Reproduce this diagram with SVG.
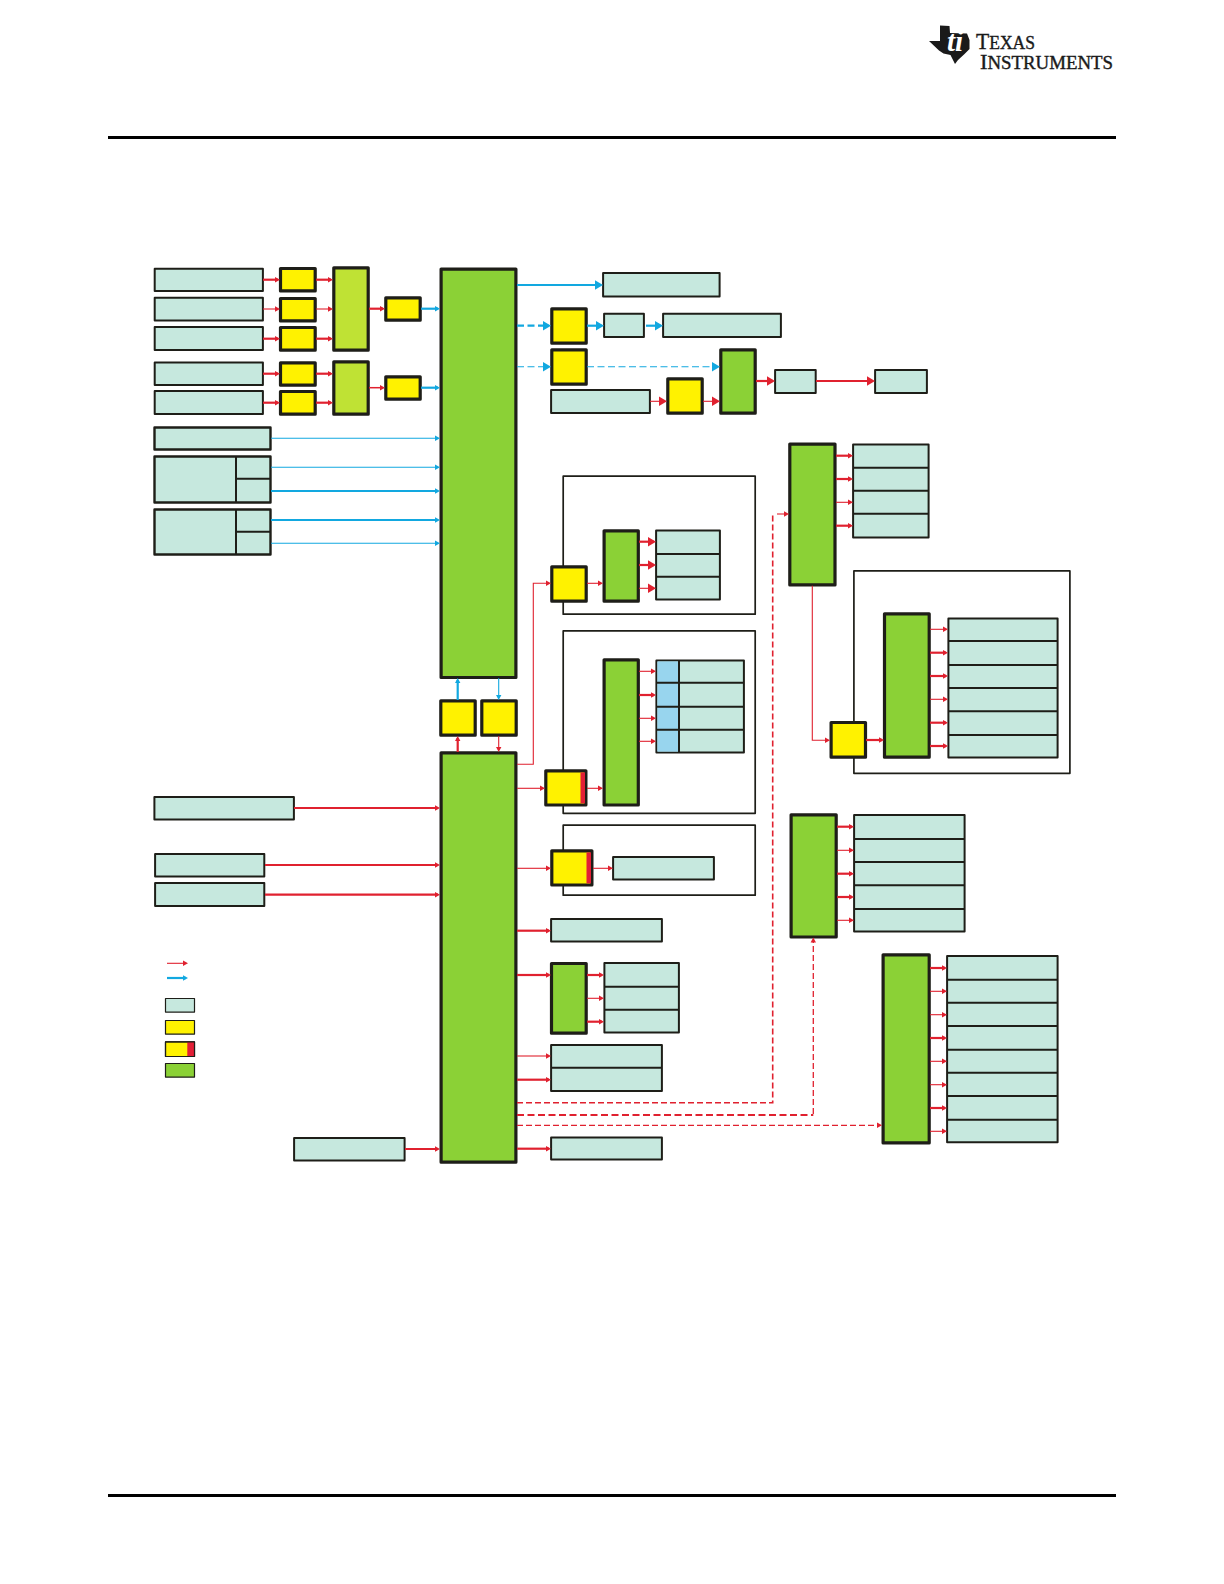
<svg xmlns="http://www.w3.org/2000/svg" width="1224" height="1584" viewBox="0 0 1224 1584">
<style>
rect{stroke:#1e1e18;stroke-linejoin:round}
.t{fill:#c6e8de;stroke-width:2}
.y{fill:#fff200;stroke-width:3.2}
.g{fill:#8bd136;stroke-width:3.2}
.l{fill:#bfe234;stroke-width:3.2}
.f{fill:#fff;stroke-width:1.7}
.c{fill:#e21f36;stroke:none}
.k{fill:#98d5ee;stroke:none}
.s1{fill:#c6e8de;stroke-width:1.2}
.s2{fill:#fff200;stroke-width:1.2}
.s3{fill:#8bd136;stroke-width:1.2}
.s4{fill:none;stroke-width:1.2}
.div{stroke:#1e1e18;stroke-width:2;fill:none}
.cn path{fill:none}
.r1,.r2,.R1,.R2{stroke:#e0212f}
.b1,.b2,.B1,.B2{stroke:#12a8e0}
.r1,.b1,.R1,.B1{stroke-width:1.1}
.r2,.b2,.R2,.B2{stroke-width:2.2}
.r1,.r2{marker-end:url(#rs)}
.R1,.R2{marker-end:url(#rl)}
.b1,.b2{marker-end:url(#bs)}
.B1,.B2{marker-end:url(#bl)}
.d{stroke-dasharray:7 3.5}
.dn{stroke-dasharray:6 3;stroke-width:1.3}
.nm{marker-end:none}
.rule{fill:#000;stroke:none}
.logo{font-family:"Liberation Serif",serif;fill:#1a1a1a;stroke:#1a1a1a;stroke-width:.4}
</style>
<defs>
<marker id="rs" markerUnits="userSpaceOnUse" markerWidth="6" markerHeight="6" refX="3" refY="3" orient="auto"><path d="M0 0.300L5 3L0 5.700z" fill="#e0212f"/></marker>
<marker id="bs" markerUnits="userSpaceOnUse" markerWidth="6" markerHeight="6" refX="3" refY="3" orient="auto"><path d="M0 0.300L5 3L0 5.700z" fill="#12a8e0"/></marker>
<marker id="rl" markerUnits="userSpaceOnUse" markerWidth="10" markerHeight="10" refX="6.500" refY="5" orient="auto"><path d="M0 0L8.500 5L0 10z" fill="#e0212f"/></marker>
<marker id="bl" markerUnits="userSpaceOnUse" markerWidth="10" markerHeight="10" refX="6.500" refY="5" orient="auto"><path d="M0 0L8.500 5L0 10z" fill="#12a8e0"/></marker>
</defs>

<rect class="rule" x="108" y="136" width="1008" height="3"/>
<rect class="rule" x="108" y="1494" width="1008" height="3"/>

<g id="logo">
<path d="M929 41L940 41L940 25.500L949.500 26L950 33L967 33.500L969.500 40L969.500 49L964 54.500L958 60L955 64L950.500 55L943.500 53.500L939 50.500z" fill="#1a1a1a"/>
<text x="947" y="51" font-size="29" font-style="italic" font-weight="bold" fill="#fff" font-family="Liberation Serif, serif">ti</text>
<text class="logo" x="976" y="49" font-size="24" textLength="59" lengthAdjust="spacingAndGlyphs">T<tspan font-size="19.500">EXAS</tspan></text>
<text class="logo" x="980" y="68.500" font-size="22" textLength="133" lengthAdjust="spacingAndGlyphs">I<tspan font-size="18.500">NSTRUMENTS</tspan></text>
</g>

<g id="frames">
<rect id="frame1" class="f" x="563.200" y="476.200" width="192" height="138"/>
<rect id="frame2" class="f" x="563.200" y="630.900" width="192" height="182.400"/>
<rect id="frame3" class="f" x="563.200" y="825.200" width="192" height="70"/>
<rect id="frame4" class="f" x="853.900" y="570.900" width="216" height="202.400"/>
</g>

<g id="n1"><rect class="t" x="154.700" y="268.700" width="108.200" height="22.200"/></g>
<g id="n2"><rect class="t" x="154.700" y="297.700" width="108.200" height="22.900"/></g>
<g id="n3"><rect class="t" x="154.700" y="327.100" width="108.200" height="22.800"/></g>
<g id="n4"><rect class="t" x="154.700" y="362.400" width="108.200" height="22.500"/></g>
<g id="n5"><rect class="t" x="154.700" y="391.100" width="108.200" height="22.800"/></g>
<g id="y1"><rect class="y" x="280.500" y="268.500" width="34.700" height="22.400"/></g>
<g id="y2"><rect class="y" x="280.500" y="298.500" width="34.700" height="22.400"/></g>
<g id="y3"><rect class="y" x="280.500" y="327.500" width="34.700" height="22.700"/></g>
<g id="y4"><rect class="y" x="280.500" y="362.800" width="34.700" height="22.400"/></g>
<g id="y5"><rect class="y" x="280.500" y="391.500" width="34.700" height="22.700"/></g>
<g id="lime1"><rect class="l" x="333.800" y="267.800" width="34.400" height="82.400"/></g>
<g id="lime2"><rect class="l" x="333.800" y="361.800" width="34.400" height="52.400"/></g>
<g id="ys1"><rect class="y" x="385.800" y="297.800" width="34.400" height="22.400"/></g>
<g id="ys2"><rect class="y" x="385.800" y="376.800" width="34.400" height="22.400"/></g>
<g id="main1"><rect class="g" x="441.100" y="269.100" width="74.800" height="408.400"/></g>
<g id="main2"><rect class="g" x="441.100" y="752.800" width="74.800" height="409.400"/></g>
<g id="yp1"><rect class="y" x="440.800" y="700.800" width="34.400" height="34.400"/></g>
<g id="yp2"><rect class="y" x="481.800" y="700.800" width="34.400" height="34.400"/></g>

<g id="b1"><rect class="t" style="stroke-width:2.400" x="154.500" y="427.500" width="116" height="22"/></g>
<g id="b2"><rect class="t" style="stroke-width:2.400" x="154.500" y="456.500" width="116" height="46"/><path class="div" d="M236 456.500V502.500M236 478.700H270.500"/></g>
<g id="b3"><rect class="t" style="stroke-width:2.400" x="154.500" y="509.500" width="116" height="45"/><path class="div" d="M236 509.500V554.500M236 531.700H270.500"/></g>

<g id="t1"><rect class="t" x="603.100" y="273.100" width="116.500" height="23.500"/></g>
<g id="y6"><rect class="y" x="551.800" y="308.800" width="34.400" height="34.400"/></g>
<g id="y7"><rect class="y" x="551.800" y="349.800" width="34.400" height="34.400"/></g>
<g id="t2"><rect class="t" x="604.100" y="313.700" width="39.800" height="23.200"/></g>
<g id="t3"><rect class="t" x="663.100" y="313.700" width="117.800" height="23.200"/></g>
<g id="t4"><rect class="t" x="551.100" y="390.100" width="98.800" height="22.800"/></g>
<g id="y8"><rect class="y" x="667.800" y="378.800" width="34.400" height="34.400"/></g>
<g id="g1"><rect class="g" x="720.800" y="349.800" width="34.400" height="63.400"/></g>
<g id="t5"><rect class="t" x="775.100" y="370.100" width="40.600" height="22.800"/></g>
<g id="t6"><rect class="t" x="875.100" y="370.100" width="51.800" height="22.800"/></g>

<g id="y9"><rect class="y" x="551.800" y="566.800" width="34.400" height="34.400"/></g>
<g id="g2"><rect class="g" x="604.100" y="530.800" width="34.200" height="70.400"/></g>
<g id="s2"><rect class="t" x="656.100" y="530.400" width="63.800" height="69.200"/><path class="div" d="M656.100 554H719.900M656.100 576.700H719.900"/></g>

<g id="g3"><rect class="g" x="789.800" y="444.100" width="45.200" height="140.800"/></g>
<g id="s3"><rect class="t" x="853.100" y="444.400" width="75.500" height="93"/><path class="div" d="M853.100 467.700H928.600M853.100 490.700H928.600M853.100 513.700H928.600"/></g>

<g id="g4"><rect class="g" x="604.100" y="659.800" width="34.200" height="145.200"/></g>
<g id="s4"><rect class="t" x="656.400" y="660.400" width="87.500" height="92.200"/><rect class="k" x="657.400" y="661.400" width="21.600" height="90.200"/><path class="div" d="M679 660.400V752.600M656.400 682.700H743.900M656.400 706.700H743.900M656.400 729.700H743.900"/></g>
<g id="yr1"><rect class="y" x="545.800" y="770.800" width="40.100" height="34.200"/><rect class="c" x="580.500" y="772.400" width="4.500" height="31"/></g>
<g id="yr2"><rect class="y" x="551.800" y="850.800" width="40.100" height="34.200"/><rect class="c" x="586.500" y="852.400" width="4.500" height="31"/></g>
<g id="t7"><rect class="t" x="613.100" y="857.100" width="100.800" height="22.500"/></g>

<g id="g5"><rect class="g" x="884.500" y="613.800" width="44.700" height="143.400"/></g>
<g id="s5"><rect class="t" x="948.400" y="618.400" width="109.200" height="139.200"/><path class="div" d="M948.400 641H1057.600M948.400 665H1057.600M948.400 688H1057.600M948.400 711.300H1057.600M948.400 735H1057.600"/></g>
<g id="y10"><rect class="y" x="831.100" y="722.500" width="34.400" height="34.700"/></g>

<g id="t8"><rect class="t" x="154.400" y="797.100" width="139.500" height="22.500"/></g>
<g id="t9"><rect class="t" x="155.100" y="854.100" width="109.200" height="22.500"/></g>
<g id="t10"><rect class="t" x="155.100" y="883.100" width="109.200" height="22.800"/></g>
<g id="t11"><rect class="t" x="294.100" y="1138.100" width="110.500" height="22.500"/></g>

<g id="legend">
<rect class="s1" x="165.500" y="998.500" width="29" height="13.600"/>
<rect class="s2" x="165.500" y="1020.500" width="29" height="13.600"/>
<rect class="s2" x="165.500" y="1041.900" width="29" height="14.600"/>
<rect class="c" x="187.300" y="1041.900" width="7.200" height="14.600"/>
<rect class="s4" x="165.500" y="1041.900" width="29" height="14.600"/>
<rect class="s3" x="165.500" y="1063.500" width="29" height="13.600"/>
</g>

<g id="t12"><rect class="t" x="551.100" y="919.100" width="110.800" height="22.500"/></g>
<g id="g6"><rect class="g" x="551.500" y="963.500" width="34.700" height="69.700"/></g>
<g id="s6"><rect class="t" x="604.400" y="963.100" width="74.500" height="69.500"/><path class="div" d="M604.400 986.700H678.900M604.400 1009.700H678.900"/></g>
<g id="s7"><rect class="t" x="551.100" y="1045.100" width="110.800" height="45.800"/><path class="div" d="M551.100 1067.700H661.900"/></g>
<g id="t13"><rect class="t" x="551.100" y="1137.400" width="110.800" height="22.200"/></g>

<g id="g7"><rect class="g" x="791.100" y="814.800" width="45.100" height="122.200"/></g>
<g id="s8"><rect class="t" x="854.100" y="815.100" width="110.500" height="116.500"/><path class="div" d="M854.100 839H964.600M854.100 862H964.600M854.100 885.300H964.600M854.100 909H964.600"/></g>
<g id="g8"><rect class="g" x="883.100" y="954.800" width="46.100" height="188.100"/></g>
<g id="s9"><rect class="t" x="947.100" y="956.100" width="110.500" height="186.200"/><path class="div" d="M947.100 979.700H1057.600M947.100 1002.700H1057.600M947.100 1026H1057.600M947.100 1049.700H1057.600M947.100 1072.700H1057.600M947.100 1096H1057.600M947.100 1119.700H1057.600"/></g>

<g id="connectors" class="cn">
<path class="r2" d="M263 279.700H278"/><path class="r1" d="M263 309H278"/><path class="r2" d="M263 338.700H278"/><path class="r2" d="M263 373.700H278"/><path class="r2" d="M263 402.700H278"/>
<path class="r2" d="M316 279.700H331"/><path class="r1" d="M316 309H331"/><path class="r2" d="M316 338.700H331"/><path class="r2" d="M316 373.700H331"/><path class="r2" d="M316 402.700H331"/>
<path class="r2" d="M369 308.700H383"/><path class="r2" style="stroke-width:1.500" d="M369 387.700H383"/>
<path class="b2" d="M421 308.700H438"/><path class="b2" d="M421 387.700H438"/>
<path class="b1" d="M271 438.300H438"/><path class="b1" d="M271 467.300H438"/><path class="b2" d="M271 491H438"/><path class="b2" d="M271 520H438"/><path class="b1" d="M271 543.300H438"/>

<path class="B2" d="M517 285H601"/>
<path class="B2 d" d="M517 325.700H549"/><path class="B2" d="M587 325.700H602"/><path class="B2" d="M646 325.700H661"/>
<path class="B1 d" d="M517 366.700H549"/><path class="B1 d" d="M587 366.700H718"/>
<path class="R1" d="M650 401.300H665"/><path class="R1" d="M703 401.300H718"/>
<path class="R2" d="M756 381H773"/><path class="R2" d="M816 381H873"/>

<path class="r1" d="M517 764.300H533.300V583.300H549"/><path class="r1" d="M587 583.300H601"/>
<path class="R2" d="M639 541.700H654"/><path class="R2" d="M639 565H654"/><path class="R1" d="M639 588.300H654"/>

<path class="r2" d="M836 455.700H851"/><path class="r2" d="M836 479H851"/><path class="r1" d="M836 502.300H851"/><path class="r2" d="M836 525.700H851"/>
<path class="r1 dn nm" style="stroke-width:1.600" d="M517 1102.700H772.700V514"/><path class="r1" d="M777 514H787"/>

<path class="b2" d="M457.700 700V680"/><path class="b1" d="M498.700 678.300V698"/>
<path class="r2" d="M457.700 752V738"/><path class="r1" d="M498.700 736V750"/>

<path class="r1" d="M639 671.300H654"/><path class="r2" d="M639 695H654"/><path class="r1" d="M639 718.300H654"/><path class="r1" d="M639 741.300H654"/>
<path class="r1" d="M517 788.300H543"/><path class="r1" d="M587 788.300H601"/>
<path class="r1" d="M517 868.300H549"/><path class="r1" d="M593 868.300H611"/>

<path class="r1" d="M812.300 585.700V740.300H828"/><path class="r2" d="M866 740H882"/>
<path class="r1" d="M930 629.300H946"/><path class="r2" d="M930 652.700H946"/><path class="r2" d="M930 676H946"/><path class="r1" d="M930 699.300H946"/><path class="r2" d="M930 722.700H946"/><path class="r2" d="M930 746H946"/>

<path class="r2" d="M294 808H438"/><path class="r2" d="M265 865H438"/><path class="r2" d="M265 894.700H438"/><path class="r2" d="M405 1149H438"/>

<path class="r2" d="M517 930.700H549"/><path class="r2" d="M517 975H549"/>
<path class="r2" d="M587 975H602"/><path class="r1" d="M587 998.300H602"/><path class="r2" d="M587 1021.700H602"/>
<path class="r1" d="M517 1056H549"/><path class="r2" d="M517 1079.700H549"/><path class="r2" d="M517 1148.700H549"/>

<path class="r1 d nm" style="stroke-width:2" d="M517 1115H813.300"/><path class="r1 dn" d="M813.300 1114V939.500"/>
<path class="r1 dn" d="M517 1125.300H880"/>

<path class="r2" d="M837 826.700H852"/><path class="r1" d="M837 850.300H852"/><path class="r2" d="M837 873.700H852"/><path class="r2" d="M837 897H852"/><path class="r1" d="M837 920.300H852"/>
<path class="r2" d="M930 968H945"/><path class="r1" d="M930 991.300H945"/><path class="r1" d="M930 1014.700H945"/><path class="r2" d="M930 1038H945"/><path class="r1" d="M930 1061.300H945"/><path class="r1" d="M930 1084.700H945"/><path class="r2" d="M930 1108H945"/><path class="r1" d="M930 1131.300H945"/>

<path class="r1" d="M167 963.300H186"/><path class="b2" d="M167 978H186"/>
</g>
</svg>
